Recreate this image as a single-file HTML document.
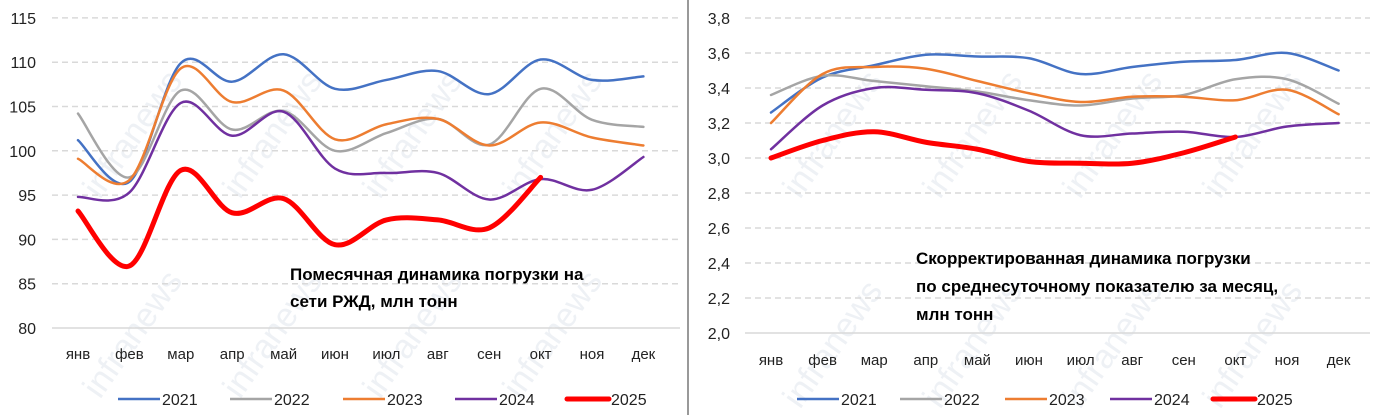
<!DOCTYPE html>
<html><head><meta charset="utf-8"><style>
body{margin:0;background:#fff;}
svg text{font-family:"Liberation Sans","DejaVu Sans",sans-serif;}
</style></head><body>
<svg id="s" width="1378" height="415" xmlns="http://www.w3.org/2000/svg">
<rect width="1378" height="415" fill="#fff"/>
<line x1="688" y1="0" x2="688" y2="415" stroke="#999" stroke-width="2"/>
</svg>
<script>
const s=document.getElementById('s');const NS='http://www.w3.org/2000/svg';
function el(t,a,txt){const e=document.createElementNS(NS,t);for(const k in a)e.setAttribute(k,a[k]);if(txt!==undefined)e.textContent=txt;s.appendChild(e);return e;}
const months=['янв','фев','мар','апр','май','июн','июл','авг','сен','окт','ноя','дек'];
const cols=['#4472c4','#a5a5a5','#ed7d31','#7030a0','#ff0000'];
function path(pts){let d='M'+pts[0][0]+','+pts[0][1];for(let i=0;i<pts.length-1;i++){const p0=pts[i-1]||pts[i],p1=pts[i],p2=pts[i+1],p3=pts[i+2]||p2;const t=6;d+=` C${p1[0]+(p2[0]-p0[0])/t},${p1[1]+(p2[1]-p0[1])/t} ${p2[0]-(p3[0]-p1[0])/t},${p2[1]-(p3[1]-p1[1])/t} ${p2[0]},${p2[1]}`;}return d;}
function chart(o){
 for(const [wx,wy] of o.wm){el('text',{x:wx,y:wy,transform:`rotate(-55 ${wx} ${wy})`,'font-size':34,fill:'#eef1f5'},'infranews');}
 o.ticks.forEach((t,i)=>{const y=o.y0-(i)*o.step;el('line',{x1:o.gx1,x2:o.gx2,y1:y,y2:y,stroke:'#d9d9d9','stroke-width':1.5,'stroke-dasharray':i==0?'':'6,4'});el('text',{x:o.lx,y:y+6,'font-size':16,'text-anchor':'end',fill:'#222'},t);});
 months.forEach((m,i)=>el('text',{x:o.mx[0]+i*o.mdx,y:o.my,'font-size':15,'text-anchor':'middle',fill:'#222'},m));
 o.data.forEach((d,k)=>{const pts=d.map((v,i)=>[o.mx[0]+i*o.mdx,o.y0-(v-o.vmin)/o.vstep*o.step]);el('path',{d:path(pts),fill:'none',stroke:cols[k],'stroke-width':k==4?5:2.5,'stroke-linecap':'round'});});
 o.title.forEach((t,i)=>el('text',{x:o.tx,y:o.ty+i*o.tdy,'font-size':17,'font-weight':'bold',fill:'#000'},t));
 o.leg.forEach((x,k)=>{el('line',{x1:x,x2:x+42,y1:399,y2:399,stroke:cols[k],'stroke-width':k==4?5:2.5,'stroke-linecap':k==4?'round':'butt'});el('text',{x:x+44,y:405,'font-size':16,fill:'#222'},2021+k);});
}
chart({ticks:['80','85','90','95','100','105','110','115'],y0:328,step:44.3,vmin:80,vstep:5,gx1:52,gx2:680,lx:36,
 mx:[78],mdx:51.4,my:359,
 wm:[[100,400],[240,400],[380,400],[520,400],[100,200],[240,200],[380,200],[520,200]],
 data:[[101.2,96.5,109.9,107.8,110.9,107,108,109,106.4,110.3,108,108.4],
 [104.2,97,106.8,102.4,104.5,100,102,103.6,100.7,107,103.5,102.7],
 [99.1,96.7,109.3,105.5,106.8,101.3,103,103.6,100.6,103.2,101.5,100.6],
 [94.8,95.3,105.4,101.7,104.4,98,97.5,97.5,94.5,96.8,95.6,99.3],
 [93.2,87,97.8,93,94.6,89.4,92.2,92.2,91.3,97]],
 title:['Помесячная динамика погрузки на','сети РЖД, млн тонн'],tx:290,ty:280,tdy:27,
 leg:[118,230,343,455,567]});
chart({ticks:['2,0','2,2','2,4','2,6','2,8','3,0','3,2','3,4','3,6','3,8'],y0:333,step:35,vmin:2.0,vstep:0.2,gx1:745,gx2:1370,lx:730,
 mx:[771],mdx:51.6,my:365,
 wm:[[800,410],[940,410],[1080,410],[1220,410],[800,200],[940,200],[1080,200],[1220,200]],
 data:[[3.26,3.46,3.53,3.59,3.58,3.57,3.48,3.52,3.55,3.56,3.6,3.5],
 [3.36,3.47,3.44,3.41,3.38,3.33,3.3,3.34,3.36,3.45,3.45,3.31],
 [3.2,3.48,3.52,3.51,3.44,3.37,3.32,3.35,3.35,3.33,3.39,3.25],
 [3.05,3.3,3.4,3.39,3.37,3.27,3.13,3.14,3.15,3.12,3.18,3.2],
 [3.0,3.1,3.15,3.09,3.05,2.98,2.97,2.97,3.03,3.12]],
 title:['Скорректированная динамика погрузки','по среднесуточному показателю за месяц,','млн тонн'],tx:916,ty:264,tdy:28,
 leg:[797,900,1005,1110,1213]});
</script>
</body></html>
